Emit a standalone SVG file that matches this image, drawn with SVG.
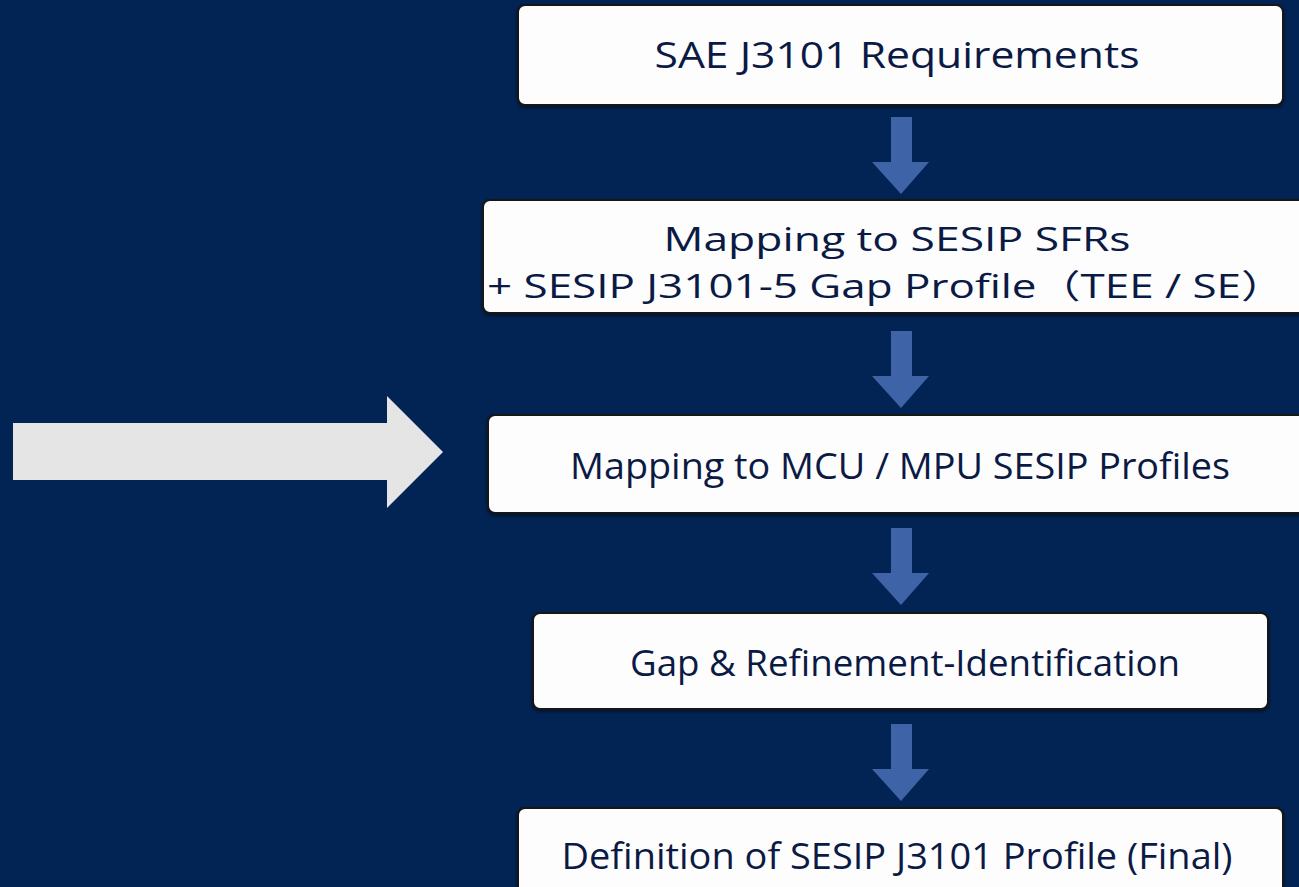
<svg xmlns="http://www.w3.org/2000/svg" width="1299" height="887" viewBox="0 0 1299 887">
<defs>
<style>
.box{fill:#fdfdfd;stroke:#151515;stroke-width:2}
.lbl{font-family:"Open Sans","Noto Sans CJK SC",sans-serif;font-size:36px;fill:#0b1a44;text-anchor:middle}
.sm{font-size:33px}
.dn{fill:#3e63a6}
</style>
<filter id="sh" x="-5%" y="-10%" width="110%" height="130%">
<feDropShadow dx="0" dy="2" stdDeviation="2" flood-color="#000" flood-opacity="0.5"/>
</filter>
<path id="darr" d="M891,0 H912 V45 H929 L901,77 L872,45 H891 Z"/>
</defs>
<rect width="1299" height="887" fill="#022455"/>
<g id="big-arrow">
<polygon points="13,423 387,423 387,396 443,452 387,508 387,480 13,480" fill="#e5e5e5"/>
</g>
<g id="connectors">
<use href="#darr" class="dn" y="117"/>
<use href="#darr" class="dn" y="331"/>
<use href="#darr" class="dn" y="528"/>
<use href="#darr" class="dn" y="724"/>
</g>
<g id="n1">
<rect class="box" x="518" y="5" width="765" height="100" rx="7" filter="url(#sh)"/>
<text class="lbl" x="897" y="68" textLength="485" lengthAdjust="spacingAndGlyphs">SAE J3101 Requirements</text>
</g>
<g id="n2">
<rect class="box" x="483" y="200" width="825" height="113" rx="7" filter="url(#sh)"/>
<text class="lbl sm" x="897" y="251" textLength="467" lengthAdjust="spacingAndGlyphs">Mapping to SESIP SFRs</text>
<text class="lbl sm" x="886" y="298" textLength="798" lengthAdjust="spacingAndGlyphs">+ SESIP J3101-5 Gap Profile（TEE / SE）</text>
</g>
<g id="n3">
<rect class="box" x="488" y="415" width="820" height="98" rx="7" filter="url(#sh)"/>
<text class="lbl" x="900" y="479" textLength="660" lengthAdjust="spacingAndGlyphs">Mapping to MCU / MPU SESIP Profiles</text>
</g>
<g id="n4">
<rect class="box" x="533" y="613" width="735" height="96" rx="7" filter="url(#sh)"/>
<text class="lbl" x="905" y="676" textLength="550" lengthAdjust="spacingAndGlyphs">Gap &amp; Refinement-Identification</text>
</g>
<g id="n5">
<rect class="box" x="518" y="808" width="765" height="100" rx="7" filter="url(#sh)"/>
<text class="lbl" x="897" y="869" textLength="671" lengthAdjust="spacingAndGlyphs">Definition of SESIP J3101 Profile (Final)</text>
</g>
</svg>
